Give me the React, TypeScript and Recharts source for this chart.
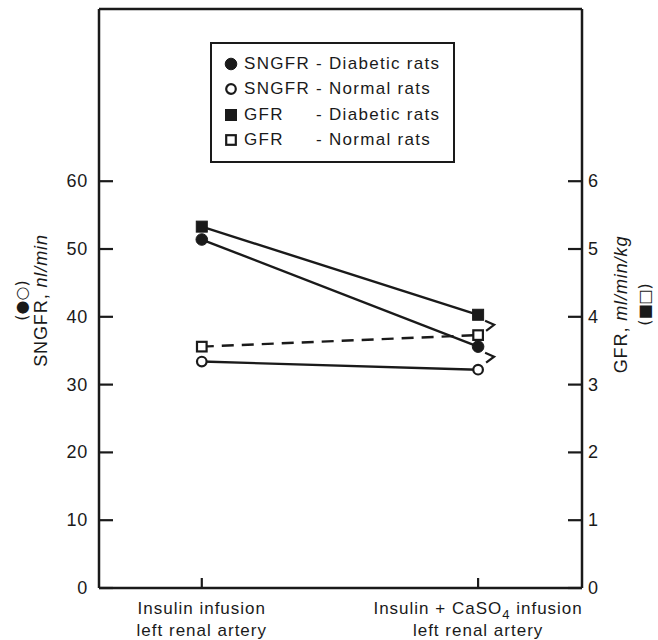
import React from "react";
import { LineChart, Line, XAxis, YAxis, ReferenceLine, Legend } from "recharts";

// ---- data ----
const xPositions = [0, 1];
const categoryLine1 = ["Insulin infusion", "Insulin + CaSO₄ infusion"];
const categoryLine2 = ["left renal artery", "left renal artery"];
const sngfrDiabetic = [51.4, 35.6];
const sngfrNormal = [33.4, 32.2];
const gfrDiabetic = [5.33, 4.03];
const gfrNormal = [3.56, 3.73];
const sngfrDiabeticMark = [false, true];
const gfrDiabeticMark = [false, true];
const leftTicks = [0, 10, 20, 30, 40, 50, 60];
const rightTicks = [0, 1, 2, 3, 4, 5, 6];
const leftMax = 85.4;
const rightMax = 8.54;
const xDomain = [-0.372, 1.376];
const legendOrder = ["sngfrD", "sngfrN", "gfrD", "gfrN"];

const data = xPositions.map((x, i) => ({
  x,
  sngfrD: sngfrDiabetic[i],
  sngfrN: sngfrNormal[i],
  gfrD: gfrDiabetic[i],
  gfrN: gfrNormal[i],
  markS: sngfrDiabeticMark[i],
  markG: gfrDiabeticMark[i],
}));

const INK = "#1a1a1a";
const FONT = "'Liberation Sans', Arial, Helvetica, sans-serif";
const SYMFONT = "'DejaVu Sans', sans-serif";

function Marker({ cx, cy, shape, filled }: any) {
  if (shape === "circle") {
    return filled ? (
      <circle cx={cx} cy={cy} r={5.8} fill={INK} stroke={INK} strokeWidth={1} />
    ) : (
      <circle cx={cx} cy={cy} r={4.8} fill="#fff" stroke={INK} strokeWidth={2.2} />
    );
  }
  return filled ? (
    <rect x={cx - 5.5} y={cy - 5.5} width={11} height={11} fill={INK} stroke={INK} strokeWidth={1} />
  ) : (
    <rect x={cx - 4.8} y={cy - 4.8} width={9.6} height={9.6} fill="#fff" stroke={INK} strokeWidth={2.2} />
  );
}

function makeDot(shape: string, filled: boolean, markKey?: string) {
  return (props: any) => {
    const { cx, cy, index, payload } = props;
    if (cx == null || cy == null) return <g key={`e-${index}`} />;
    const marked = markKey ? payload[markKey] : false;
    return (
      <g key={`d-${shape}-${filled}-${index}`}>
        <Marker cx={cx} cy={cy} shape={shape} filled={filled} />
        {marked ? (
          <polyline
            points={`${cx + 7},${cy + 6} ${cx + 16},${cy + 10} ${cx + 8},${cy + 16}`}
            fill="none"
            stroke={INK}
            strokeWidth={2.2}
          />
        ) : null}
      </g>
    );
  };
}

function LeftTick(props: any) {
  const { x, y, payload } = props;
  const ax = x + 11;
  return (
    <g>
      <line x1={ax} x2={ax + 14} y1={y} y2={y} stroke={INK} strokeWidth={2.2} />
      <text x={x} y={y} textAnchor="end" dominantBaseline="central" fontFamily={FONT} fontSize={18} fill={INK} style={{ letterSpacing: "0.8px" }}>
        {payload.value}
      </text>
    </g>
  );
}

function RightTick(props: any) {
  const { x, y, payload } = props;
  const ax = x - 6;
  return (
    <g>
      <line x1={ax - 14} x2={ax} y1={y} y2={y} stroke={INK} strokeWidth={2.2} />
      <text x={x} y={y} textAnchor="start" dominantBaseline="central" fontFamily={FONT} fontSize={18} fill={INK}>
        {payload.value}
      </text>
    </g>
  );
}

function renderSub(s: string) {
  const parts = s.split(/([₀-₉])/);
  const out: any[] = [];
  let lowered = false;
  parts.forEach((p, i) => {
    if (!p) return;
    if (/[₀-₉]/.test(p)) {
      const d = String(p.charCodeAt(0) - 0x2080);
      out.push(
        <tspan key={i} dy={5} fontSize={13}>
          {d}
        </tspan>
      );
      lowered = true;
    } else {
      out.push(
        <tspan key={i} dy={lowered ? -5 : 0}>
          {p}
        </tspan>
      );
      lowered = false;
    }
  });
  return out;
}

function XTick(props: any) {
  const { x, y, payload } = props;
  const i = xPositions.indexOf(payload.value);
  const l1 = categoryLine1[i] ?? "";
  const l2 = categoryLine2[i] ?? "";
  return (
    <g>
      <line x1={x} x2={x} y1={y} y2={y - 10} stroke={INK} strokeWidth={2.2} />
      <text x={x} y={y + 26} textAnchor="middle" fontFamily={FONT} fontSize={17} fill={INK} style={{ letterSpacing: "1px" }}>
        {renderSub(l1)}
      </text>
      <text x={x} y={y + 48} textAnchor="middle" fontFamily={FONT} fontSize={17} fill={INK} style={{ letterSpacing: "1px" }}>
        {l2}
      </text>
    </g>
  );
}

function LeftAxisLabel(props: any) {
  const vb = props.viewBox || { x: 0, y: 0, width: 0, height: 0 };
  const cy = vb.y + vb.height / 2 + 2;
  const x1 = vb.x + 21;
  const x2 = vb.x + 41;
  return (
    <g fill={INK}>
      <text x={x1} y={cy} transform={`rotate(-90 ${x1} ${cy})`} textAnchor="middle" dominantBaseline="central" fontFamily={SYMFONT} fontSize={16}>
        (●○)
      </text>
      <text x={x2} y={cy} transform={`rotate(-90 ${x2} ${cy})`} textAnchor="middle" dominantBaseline="central" fontFamily={FONT} fontSize={18} style={{ letterSpacing: "0.9px" }}>
        SNGFR, <tspan fontStyle="italic">nl/min</tspan>
      </text>
    </g>
  );
}

function RightAxisLabel(props: any) {
  const vb = props.viewBox || { x: 0, y: 0, width: 0, height: 0 };
  const cy = vb.y + vb.height / 2 + 6;
  const x1 = vb.x + 39;
  const x2 = vb.x + 62;
  return (
    <g fill={INK}>
      <text x={x1} y={cy} transform={`rotate(-90 ${x1} ${cy})`} textAnchor="middle" dominantBaseline="central" fontFamily={FONT} fontSize={18} style={{ letterSpacing: "0.9px" }}>
        GFR, <tspan fontStyle="italic">ml/min/kg</tspan>
      </text>
      <text x={x2} y={cy} transform={`rotate(-90 ${x2} ${cy})`} textAnchor="middle" dominantBaseline="central" fontFamily={SYMFONT} fontSize={16}>
        (■□)
      </text>
    </g>
  );
}

const legendShapes: Record<string, [string, boolean]> = {
  sngfrD: ["circle", true],
  sngfrN: ["circle", false],
  gfrD: ["square", true],
  gfrN: ["square", false],
};

function LegendBox(props: any) {
  const payload = [...(props.payload || [])].sort(
    (a: any, b: any) => legendOrder.indexOf(a.dataKey) - legendOrder.indexOf(b.dataKey)
  );
  return (
    <div
      style={{
        border: `2px solid ${INK}`,
        padding: "7px 0 8px 12px",
        fontFamily: FONT,
        fontSize: 17,
        color: INK,
        letterSpacing: "1.3px",
        background: "#fff",
        boxSizing: "border-box",
      }}
    >
      {payload.map((entry: any, i: number) => {
        const [name, group] = String(entry.value).split(" - ");
        const [shape, filled] = legendShapes[entry.dataKey] || ["circle", true];
        return (
          <div key={i} style={{ display: "flex", alignItems: "center", height: 25.5, whiteSpace: "nowrap" }}>
            <svg width={14} height={14} style={{ marginRight: 6 }}>
              <Marker cx={7} cy={7} shape={shape} filled={filled} />
            </svg>
            <span style={{ display: "inline-block", width: 72 }}>{name}</span>
            <span>- {group}</span>
          </div>
        );
      })}
    </div>
  );
}

export default function App() {
  return (
    <div style={{ position: "absolute", left: 0, top: 0 }}>
      <LineChart width={658} height={640} data={data} margin={{ top: 9, right: 0, bottom: 0, left: 0 }}>
        <XAxis
          dataKey="x"
          type="number"
          domain={xDomain}
          ticks={xPositions}
          allowDataOverflow
          height={52}
          tickLine={false}
          tickSize={0}
          tickMargin={0}
          tick={<XTick />}
          axisLine={{ stroke: INK, strokeWidth: 2.5 }}
        />
        <YAxis
          yAxisId="left"
          orientation="left"
          domain={[0, leftMax]}
          ticks={leftTicks}
          allowDataOverflow
          width={99}
          tickLine={false}
          tickSize={0}
          tickMargin={11}
          tick={<LeftTick />}
          axisLine={{ stroke: INK, strokeWidth: 2.5 }}
          label={<LeftAxisLabel />}
        />
        <YAxis
          yAxisId="right"
          orientation="right"
          domain={[0, rightMax]}
          ticks={rightTicks}
          allowDataOverflow
          width={76}
          tickLine={false}
          tickSize={0}
          tickMargin={6}
          tick={<RightTick />}
          axisLine={{ stroke: INK, strokeWidth: 2.5 }}
          label={<RightAxisLabel />}
        />
        <ReferenceLine yAxisId="left" y={leftMax} stroke={INK} strokeWidth={2.5} />
        <Legend
          layout="horizontal"
          verticalAlign="middle"
          align="center"
          itemSorter={null as any}
          content={<LegendBox />}
          wrapperStyle={{ position: "absolute", left: 210, top: 42, width: 245, height: "auto" }}
        />
        <Line
          yAxisId="left"
          dataKey="sngfrD"
          name="SNGFR - Diabetic rats"
          stroke={INK}
          strokeWidth={2.4}
          dot={makeDot("circle", true, "markS")}
          activeDot={false}
          isAnimationActive={false}
        />
        <Line
          yAxisId="left"
          dataKey="sngfrN"
          name="SNGFR - Normal rats"
          stroke={INK}
          strokeWidth={2.4}
          dot={makeDot("circle", false)}
          activeDot={false}
          isAnimationActive={false}
        />
        <Line
          yAxisId="right"
          dataKey="gfrD"
          name="GFR - Diabetic rats"
          stroke={INK}
          strokeWidth={2.4}
          dot={makeDot("square", true, "markG")}
          activeDot={false}
          isAnimationActive={false}
        />
        <Line
          yAxisId="right"
          dataKey="gfrN"
          name="GFR - Normal rats"
          stroke={INK}
          strokeWidth={2.4}
          strokeDasharray="12 8"
          dot={makeDot("square", false)}
          activeDot={false}
          isAnimationActive={false}
        />
      </LineChart>
    </div>
  );
}
